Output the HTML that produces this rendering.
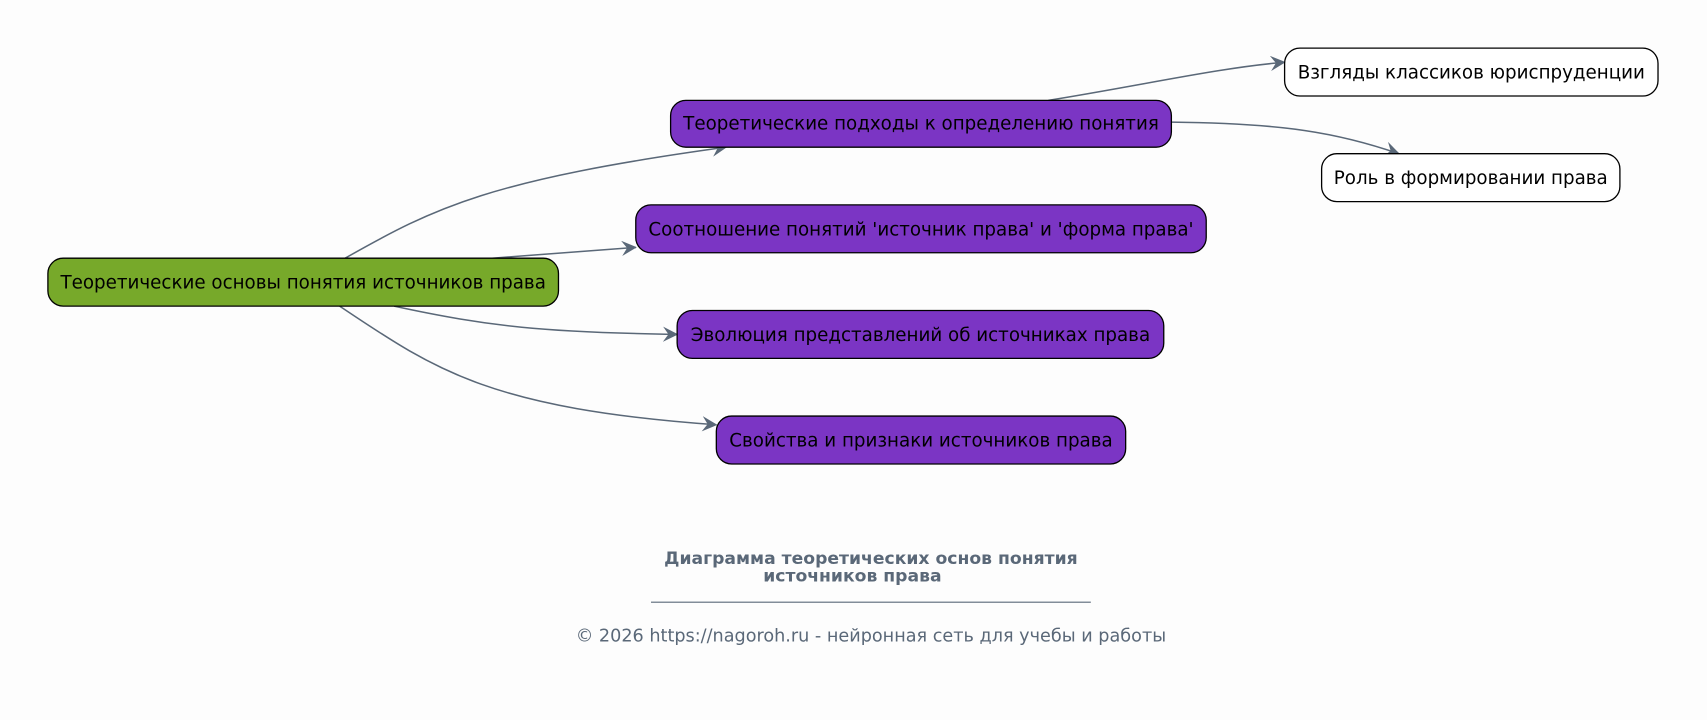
<!DOCTYPE html>
<html><head><meta charset="utf-8"><style>
html,body{margin:0;padding:0;background:#fdfdfd;}
svg{display:block;}
text{font-family:"DejaVu Sans","Liberation Sans",sans-serif;}
</style></head><body>
<svg width="1707" height="720" viewBox="0 0 1568 661" xmlns="http://www.w3.org/2000/svg">
<defs>
<marker id="a" viewBox="0 0 14 14" refX="13" refY="7" markerWidth="14" markerHeight="14" markerUnits="userSpaceOnUse" orient="auto">
<path d="M0,0 L14,7 L0,14 L5,7 Z" fill="#5a6878"/>
</marker>
</defs>
<rect width="1568" height="661" fill="#fdfdfd"/>
<g fill="none" stroke="#5a6878" stroke-width="1.4" marker-end="url(#a)">
<path d="M317,237 C400,190 450,165 667,135"/>
<path d="M452,237 L584,227"/>
<path d="M362,281 C450,300 500,305 622,307"/>
<path d="M312,281 C400,340 450,375 658,390"/>
<path d="M963,92 C1050,78 1120,62 1180,57"/>
<path d="M1076,112 C1180,113 1230,122 1285,141"/>
</g>
<g stroke="#000" stroke-width="1.2">
<rect x="44" y="237" width="469" height="44" rx="14" fill="#77a92a"/>
<rect x="616" y="92" width="460" height="43" rx="14" fill="#7b35c4"/>
<rect x="584" y="188" width="524" height="44" rx="14" fill="#7b35c4"/>
<rect x="622" y="285" width="447" height="44" rx="14" fill="#7b35c4"/>
<rect x="658" y="382" width="376" height="44" rx="14" fill="#7b35c4"/>
<rect x="1180" y="44" width="343" height="44" rx="14" fill="#fff"/>
<rect x="1214" y="141" width="274" height="44" rx="14" fill="#fff"/>
</g>
<g font-size="16.8" fill="#000" text-anchor="middle">
<text x="278.5" y="265">Теоретические основы понятия источников права</text>
<text x="846" y="119">Теоретические подходы к определению понятия</text>
<text x="846" y="216">Соотношение понятий 'источник права' и 'форма права'</text>
<text x="845.5" y="313">Эволюция представлений об источниках права</text>
<text x="846" y="410">Свойства и признаки источников права</text>
<text x="1351.5" y="72">Взгляды классиков юриспруденции</text>
<text x="1351" y="169">Роль в формировании права</text>
</g>
<g fill="#5a6878" text-anchor="middle">
<text x="800" y="518" font-size="15.8" font-weight="bold">Диаграмма теоретических основ понятия</text>
<text x="783" y="534" font-size="15.8" font-weight="bold">источников права</text>
<line x1="598" y1="553" x2="1002" y2="553" stroke="#5a6878" stroke-width="1"/>
<text x="800" y="589" font-size="16.2">© 2026 https://nagoroh.ru - нейронная сеть для учебы и работы</text>
</g>
</svg>
</body></html>
